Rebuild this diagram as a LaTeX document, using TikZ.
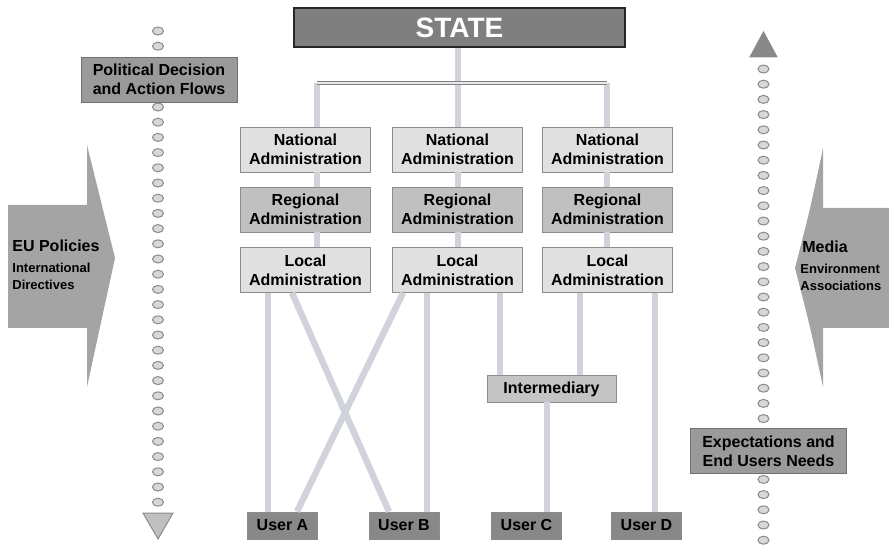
\documentclass[tikz,border=0pt]{standalone}
\usepackage{fontspec}
\setmainfont{Liberation Sans}
\usetikzlibrary{calc}

\begin{document}
\begin{tikzpicture}[x=0.5pt, y=-0.5pt,
    box/.style={draw=borderColour, fill=#1, font=\fontsize{8}{9.5}\selectfont\bfseries, align=center, inner sep=1pt},
    admin/.style={box=#1, minimum width=65pt, minimum height=22.5pt},
    small/.style={box=#1, minimum height=13.5pt, text height=6pt, text depth=1pt},
    user/.style={small=fillColourU, minimum width=35pt},
    flow/.style={box=fillColourF, draw=flowBorder, minimum width=78pt, minimum height=22.5pt},
    link/.style={draw=linkColour, line width=3.2pt},
    bar/.style={draw=gray, line width=0.6pt, double=linkColour!50, double distance=1.1pt},
    dot/.style={draw=dotBorder, fill=dotFill, line width=0.5pt},
    tri/.style={draw=dotBorder, line width=0.5pt},
    side/.style={anchor=west, align=left, inner sep=0pt},
  ]
    \definecolor{borderColour}{HTML}{8C8C8C}
    \definecolor{flowBorder}{HTML}{707070}
    \definecolor{fillColourS}{HTML}{7F7F7F}
    \definecolor{fillColourN}{HTML}{E0E0E0}
    \definecolor{fillColourR}{HTML}{C0C0C0}
    \definecolor{fillColourI}{HTML}{C4C4C4}
    \definecolor{fillColourU}{HTML}{888888}
    \definecolor{fillColourF}{HTML}{9A9A9A}
    \definecolor{fillColourA}{HTML}{A4A4A4}
    \definecolor{linkColour}{HTML}{D0D3DA}
    \definecolor{dotFill}{HTML}{D8D8D8}
    \definecolor{dotBorder}{HTML}{8A8A8A}

    \clip (0,0) rectangle (889,545);

    % Side arrows
    \fill[fillColourA] (8,205) -- (87,205) -- (87,145) -- (115,258) -- (87,387) -- (87,328) -- (8,328) -- cycle;
    \fill[fillColourA] (889,208) -- (823,208) -- (823,148) .. controls (810,210) .. (795,268)
        .. controls (810,326) .. (823,387) -- (823,328) -- (889,328) -- cycle;
    \node[side, font=\fontsize{8}{9.5}\selectfont\bfseries] (eu) at (12,246) {EU Policies};
    \node[side, font=\fontsize{6.5}{8.5}\selectfont\bfseries] (intl) at (12,276) {International\\Directives};
    \node[side, font=\fontsize{8}{9.5}\selectfont\bfseries] (media) at (802,247) {Media};
    \node[side, font=\fontsize{6.5}{8.5}\selectfont\bfseries] (env) at (800,277) {Environment\\Associations};

    % Dotted flows
    \foreach \k in {0,...,31}
        \draw[dot] (158,{31+15.2*\k}) ellipse [x radius=2.75pt, y radius=2pt];
    \foreach \k in {0,...,31}
        \draw[dot] (763.5,{69+15.2*\k}) ellipse [x radius=2.75pt, y radius=2pt];
    \filldraw[tri, fill=fillColourR] (143,513) -- (173,513) -- (158,539) -- cycle;
    \filldraw[tri, fill=fillColourU] (750,57) -- (777,57) -- (763.5,32) -- cycle;
    \node[flow] (pol) at (159,79.5) {Political Decision\\and Action Flows};
    \node[flow] (exp) at (768.5,451) {Expectations and\\End Users Needs};

    % State and administrations
    \node[box=fillColourS, draw=black!85, line width=0.8pt, minimum width=165.5pt, minimum height=19.5pt,
          text=white, font=\fontsize{14}{16}\selectfont\bfseries] (state) at (459.5,27.5) {STATE};
    \foreach \n/\x in {1/305.5, 2/457.5, 3/607.5} {
        \node[admin=fillColourN] (nat\n) at (\x,149.5) {National\\Administration};
        \node[admin=fillColourR] (reg\n) at (\x,209.5) {Regional\\Administration};
        \node[admin=fillColourN] (loc\n) at (\x,270) {Local\\Administration};
    }
    \node[small=fillColourI, minimum width=64.5pt] (inter) at (551.5,388.5) {Intermediary};
    \node[user] (usrA) at (282.5,525.5) {User A};
    \node[user] (usrB) at (404,525.5) {User B};
    \node[user] (usrC) at (526.5,525.5) {User C};
    \node[user] (usrD) at (646.5,525.5) {User D};

    % Columns of the tree
    \coordinate (hub) at (458,83);
    \coordinate (c1) at (317,83);
    \coordinate (c2) at (458,83);
    \coordinate (c3) at (607,83);
    \draw[link] (state.south -| hub) -- (hub);
    \foreach \n in {1,2,3} {
        \draw[link] (c\n) -- (c\n |- nat\n.north);
        \draw[link] (nat\n.south -| c\n) -- (reg\n.north -| c\n);
        \draw[link] (reg\n.south -| c\n) -- (loc\n.north -| c\n);
    }
    \draw[bar] (c1) -- (c3);

    % Links down to the users
    \coordinate (xA) at (268,0);
    \coordinate (xB1) at (292,0);
    \coordinate (xB2) at (389,0);
    \coordinate (xA1) at (403,0);
    \coordinate (xA2) at (297,0);
    \coordinate (xB) at (427,0);
    \coordinate (xI1) at (500,0);
    \coordinate (xI2) at (580,0);
    \coordinate (xC) at (547,0);
    \coordinate (xD) at (655,0);
    \draw[link] (loc1.south -| xA) -- (usrA.north -| xA);
    \draw[link] (loc1.south -| xB1) -- (usrB.north -| xB2);
    \draw[link] (loc2.south -| xA1) -- (usrA.north -| xA2);
    \draw[link] (loc2.south -| xB) -- (usrB.north -| xB);
    \draw[link] (loc2.south -| xI1) -- (inter.north -| xI1);
    \draw[link] (loc3.south -| xI2) -- (inter.north -| xI2);
    \draw[link] (inter.south -| xC) -- (usrC.north -| xC);
    \draw[link] (loc3.south -| xD) -- (usrD.north -| xD);

\end{tikzpicture}
\end{document}
